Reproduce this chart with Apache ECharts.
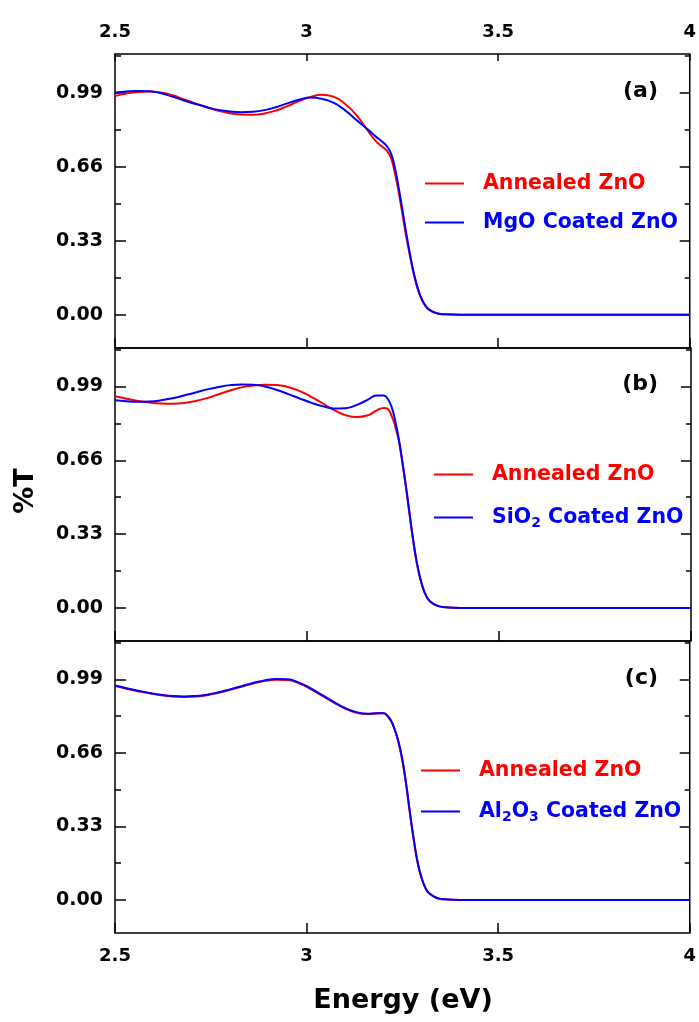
<!DOCTYPE html>
<html><head><meta charset="utf-8">
<script src="https://cdn.jsdelivr.net/npm/echarts@6/dist/echarts.min.js"></script>
<style>html,body{margin:0;padding:0;background:#fff}#c{width:699px;height:1022px}</style>
</head><body><div id="c"></div>
<script>
// ---------------- data ----------------
const energy = [2.50,2.53,2.56,2.59,2.62,2.65,2.68,2.71,2.74,2.77,2.80,2.83,2.86,2.89,2.92,2.95,2.98,3.01,3.04,3.07,3.10,3.13,3.16,3.18,3.20,3.21,3.22,3.23,3.24,3.25,3.26,3.27,3.28,3.29,3.30,3.31,3.32,3.34,3.36,3.40,3.50,3.60,3.70,3.80,3.90,4.00];
const aAnnealed = [0.975,0.986,0.993,0.995,0.990,0.978,0.960,0.942,0.925,0.909,0.898,0.892,0.891,0.897,0.910,0.930,0.952,0.970,0.980,0.972,0.940,0.890,0.820,0.775,0.745,0.730,0.700,0.635,0.550,0.450,0.350,0.260,0.180,0.115,0.070,0.040,0.022,0.007,0.002,0,0,0,0,0,0,0];
const aMgO      = [0.990,0.995,0.997,0.996,0.987,0.972,0.955,0.939,0.925,0.913,0.906,0.903,0.905,0.912,0.925,0.942,0.958,0.968,0.962,0.945,0.912,0.868,0.825,0.795,0.768,0.750,0.720,0.660,0.570,0.470,0.365,0.270,0.185,0.120,0.072,0.042,0.023,0.007,0.002,0,0,0,0,0,0,0];
const bAnnealed = [0.946,0.935,0.925,0.918,0.914,0.913,0.916,0.925,0.938,0.955,0.972,0.986,0.994,0.998,0.997,0.988,0.970,0.945,0.915,0.885,0.862,0.853,0.862,0.882,0.894,0.890,0.860,0.810,0.740,0.630,0.510,0.380,0.260,0.165,0.100,0.055,0.030,0.009,0.003,0,0,0,0,0,0,0];
const bSiO2     = [0.928,0.924,0.922,0.923,0.928,0.937,0.950,0.963,0.977,0.988,0.996,0.999,0.998,0.990,0.975,0.957,0.937,0.918,0.902,0.892,0.893,0.908,0.932,0.950,0.950,0.935,0.900,0.835,0.745,0.635,0.515,0.385,0.265,0.170,0.100,0.055,0.030,0.009,0.003,0,0,0,0,0,0,0];
const cAnnealed = [0.960,0.948,0.937,0.927,0.919,0.913,0.911,0.913,0.919,0.930,0.943,0.957,0.971,0.982,0.988,0.987,0.972,0.947,0.917,0.887,0.859,0.840,0.834,0.837,0.839,0.829,0.805,0.765,0.705,0.625,0.515,0.385,0.265,0.165,0.100,0.055,0.030,0.009,0.003,0,0,0,0,0,0,0];
const cAl2O3    = [0.962,0.950,0.939,0.929,0.921,0.915,0.913,0.915,0.921,0.932,0.945,0.959,0.974,0.985,0.991,0.990,0.975,0.950,0.920,0.890,0.862,0.843,0.836,0.838,0.838,0.828,0.805,0.765,0.710,0.630,0.520,0.390,0.270,0.168,0.100,0.055,0.030,0.009,0.003,0,0,0,0,0,0,0];
const xTickValues = [2.5,3,3.5,4];
const yMajorTicks = [0,0.33,0.66,0.99];
const yMinorTicks = [0.165,0.495,0.825,1.155];
const panelLabels = ['(a)','(b)','(c)'];
const seriesNames = [['Annealed ZnO','MgO Coated ZnO'],['Annealed ZnO','SiO2 Coated ZnO'],['Annealed ZnO','Al2O3 Coated ZnO']];
const panelData = [[aAnnealed,aMgO],[bAnnealed,bSiO2],[cAnnealed,cAl2O3]];
const xTitle = 'Energy (eV)';
const yTitle = '%T';

// ---------------- layout ----------------
const FONT = 'DejaVu Sans';
const LEFT = 115, WIDTH = 576;
const gridBoxes = [{top:54,height:294},{top:348,height:293},{top:641,height:292}];
const YMIN = -0.148, YMAX = 1.162;
const RED = '#ff0000', BLUE = '#0000ff';

const grid = gridBoxes.map(g => ({left:LEFT, width:WIDTH, top:g.top, height:g.height,
  show:true, borderColor:'#000', borderWidth:1.5, backgroundColor:'transparent'}));

const xAxis = [];
gridBoxes.forEach((g,i) => {
  xAxis.push({type:'value', gridIndex:i, min:2.5, max:4, interval:0.5, position:'bottom',
    axisLine:{show:false, onZero:false}, splitLine:{show:false},
    axisTick:{show:true, inside:true, length:10, customValues:xTickValues, lineStyle:{color:'#000', width:1.5}},
    axisLabel:{show:i===2, customValues:xTickValues, margin:14, color:'#000', fontFamily:FONT, fontWeight:'bold', fontSize:18}});
});
xAxis.push({type:'value', gridIndex:0, min:2.5, max:4, interval:0.5, position:'top',
  axisLine:{show:false, onZero:false}, splitLine:{show:false},
  axisTick:{show:true, inside:true, length:7, customValues:xTickValues, lineStyle:{color:'#000', width:1.5}},
  axisLabel:{show:true, customValues:xTickValues, margin:13, color:'#000', fontFamily:FONT, fontWeight:'bold', fontSize:18}});

const yAxis = [];
gridBoxes.forEach((g,i) => {
  const base = {type:'value', gridIndex:i, min:YMIN, max:YMAX, axisLine:{show:false, onZero:false}, splitLine:{show:false}};
  yAxis.push(Object.assign({}, base, {position:'left',
    axisTick:{show:true, inside:true, length:11, customValues:yMajorTicks, lineStyle:{color:'#000', width:1.5}},
    axisLabel:{show:true, customValues:yMajorTicks, margin:12, color:'#000', fontFamily:FONT, fontWeight:'bold', fontSize:19,
      formatter:v => Number(v).toFixed(2)}}));
  yAxis.push(Object.assign({}, base, {position:'left',
    axisTick:{show:true, inside:true, length:6, customValues:yMinorTicks, lineStyle:{color:'#000', width:1.5}},
    axisLabel:{show:false}}));
  yAxis.push(Object.assign({}, base, {position:'right',
    axisTick:{show:true, inside:true, length:10, customValues:yMajorTicks, lineStyle:{color:'#000', width:1.5}},
    axisLabel:{show:false}}));
  yAxis.push(Object.assign({}, base, {position:'right',
    axisTick:{show:true, inside:true, length:5, customValues:yMinorTicks, lineStyle:{color:'#000', width:1.5}},
    axisLabel:{show:false}}));
});

const series = [];
panelData.forEach((pair,i) => {
  pair.forEach((vals,j) => {
    series.push({type:'line', name:seriesNames[i][j], xAxisIndex:i, yAxisIndex:4*i,
      data:energy.map((e,k)=>[e, vals[k]]), showSymbol:false, symbol:'none', smooth:0.5,
      lineStyle:{width:2, color: j===0?RED:BLUE}, itemStyle:{color: j===0?RED:BLUE},
      emphasis:{disabled:true}, silent:true, animation:false});
  });
});

// legends: one component per entry
const legendPos = [
  [{x:425,y:182},{x:425,y:221}],
  [{x:434,y:473},{x:434,y:516}],
  [{x:421,y:769},{x:421,y:810}]
];
const rich = {
  r:{color:RED, fontFamily:FONT, fontWeight:'bold', fontSize:20.5},
  b:{color:BLUE, fontFamily:FONT, fontWeight:'bold', fontSize:20.5},
  s:{color:BLUE, fontFamily:FONT, fontWeight:'bold', fontSize:14, verticalAlign:'bottom', padding:[12,0,0,0]}
};
function legendText(name){
  if (name === 'Annealed ZnO') return '{r|Annealed ZnO}';
  if (name === 'SiO2 Coated ZnO') return '{b|SiO}{s|2}{b| Coated ZnO}';
  if (name === 'Al2O3 Coated ZnO') return '{b|Al}{s|2}{b|O}{s|3}{b| Coated ZnO}';
  return '{b|' + name + '}';
}
const legend = [];
legendPos.forEach((pair,i) => pair.forEach((p,j) => {
  legend.push({data:[seriesNames[i][j]], left:p.x, top:p.y-9, orient:'vertical', padding:0,
    icon:'rect', itemWidth:39, itemHeight:2, selectedMode:false,
    formatter:legendText,
    textStyle:{padding:[0,0,0,14], rich:rich, fontFamily:FONT, fontWeight:'bold', fontSize:20.5}});
}));

const labelY = [91, 384, 678];
const graphic = panelLabels.map((t,i) => ({type:'text', x:658, y:labelY[i],
  style:{text:t, fill:'#000', font:'bold 22px "DejaVu Sans"', align:'right', verticalAlign:'middle'}}));
graphic.push({type:'text', x:403, y:1001, style:{text:xTitle, fill:'#000', font:'bold 27px "DejaVu Sans"', align:'center', verticalAlign:'middle'}});
graphic.push({type:'text', x:26, y:491, rotation:Math.PI/2, style:{text:yTitle, fill:'#000', font:'bold 27px "DejaVu Sans"', align:'center', verticalAlign:'middle'}});

const chart = echarts.init(document.getElementById('c'), null, {renderer:'canvas'});
chart.setOption({animation:false, backgroundColor:'#fff', grid, xAxis, yAxis, series, legend, graphic});
</script></body></html>
